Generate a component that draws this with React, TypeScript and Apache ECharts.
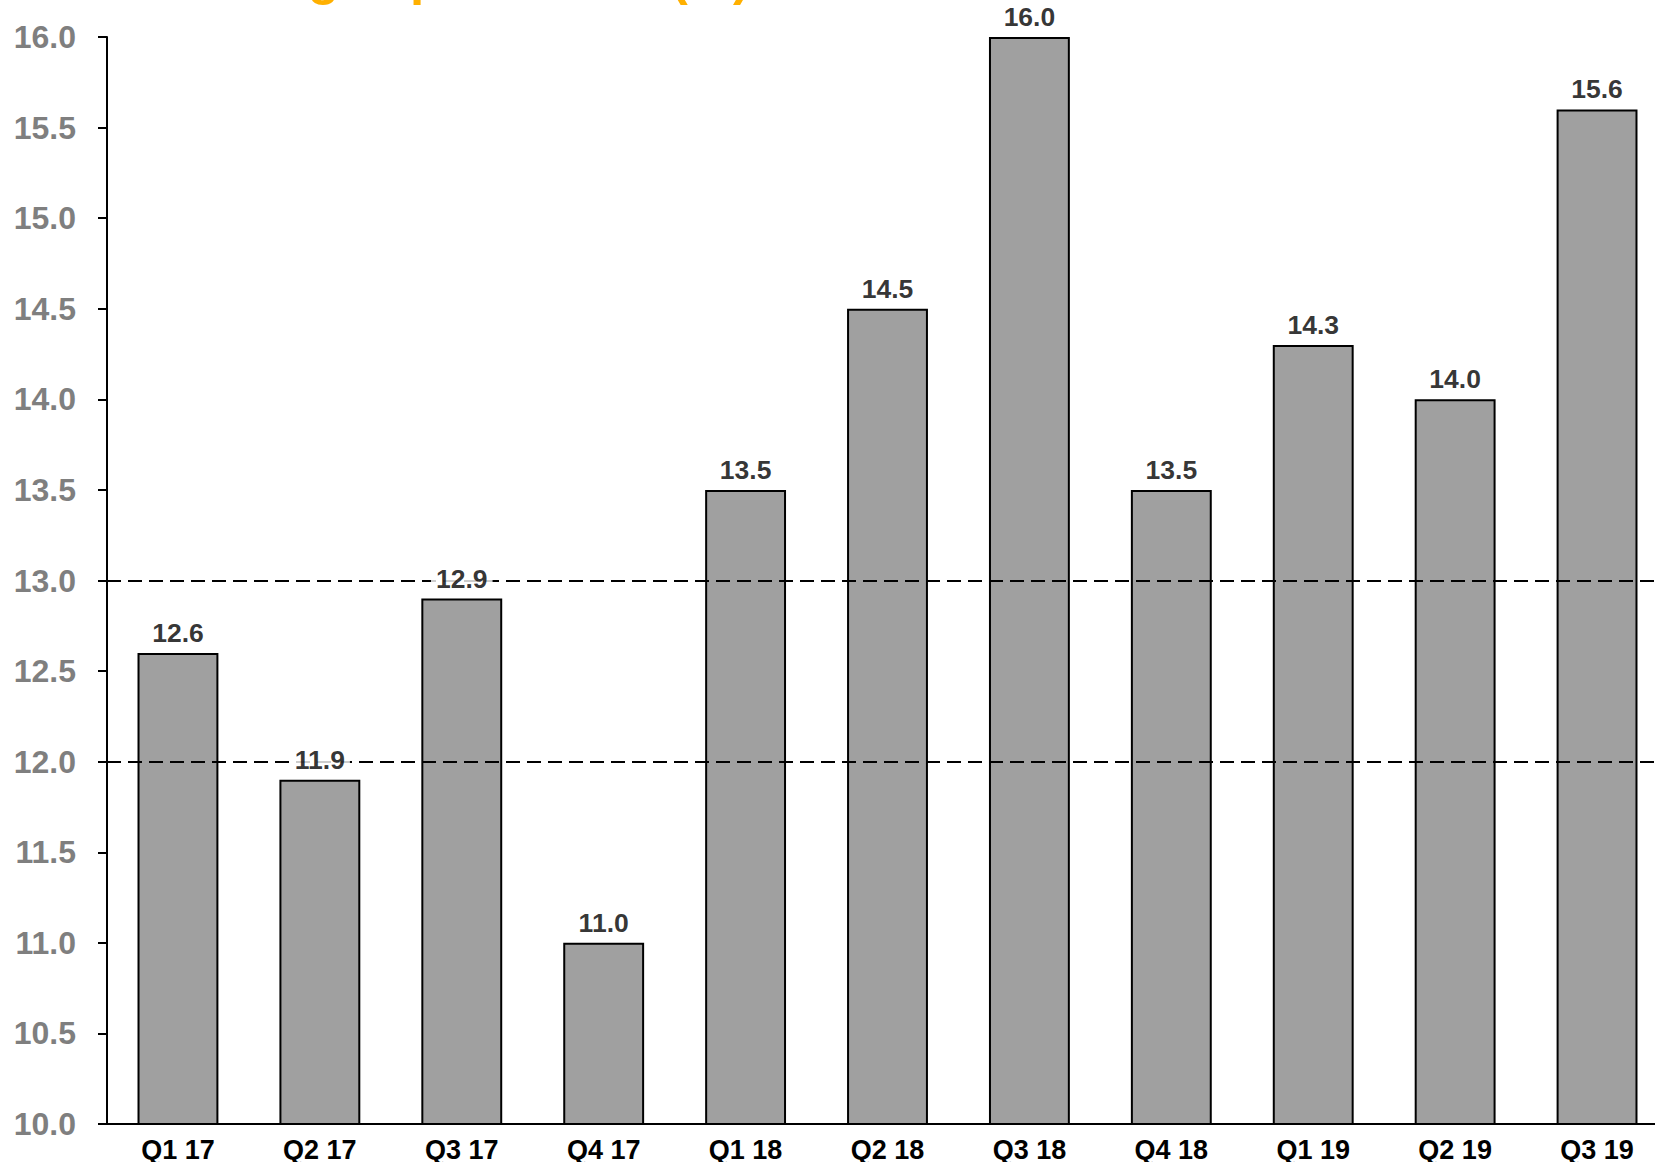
import React, { useEffect, useRef } from "react";
import * as echarts from "echarts";

// Quarterly categories and their values (%)
const quarters = ["Q1 17", "Q2 17", "Q3 17", "Q4 17", "Q1 18", "Q2 18", "Q3 18", "Q4 18", "Q1 19", "Q2 19", "Q3 19"];
const values = [12.6, 11.9, 12.9, 11.0, 13.5, 14.5, 16.0, 13.5, 14.3, 14.0, 15.6];

// Dashed reference levels
const referenceLevels = [12.0, 13.0];

// Value axis range
const yMin = 10;
const yMax = 16;
const yStep = 0.5;

const titleText = "Average spread rate (%)";

const FONT = "'Liberation Sans', Arial, Helvetica, sans-serif";

export default function App() {
  const ref = useRef<HTMLDivElement | null>(null);

  useEffect(() => {
    document.body.style.margin = "0";
    if (!ref.current) return;
    const chart = echarts.init(ref.current, undefined, { renderer: "svg" });

    chart.setOption({
      animation: false,
      backgroundColor: "#ffffff",
      textStyle: { fontFamily: FONT },
      graphic: [
        {
          type: "text",
          left: 168,
          y: -24,
          style: {
            text: titleText,
            fill: "#FFB000",
            font: `bold 51px ${FONT}`,
            textVerticalAlign: "middle",
          },
        },
      ],
      // the plot runs a little past the right edge of the canvas
      grid: { left: 107, top: 37, width: 1561, height: 1087, outerBoundsMode: "none", containLabel: false },
      xAxis: {
        type: "category",
        data: quarters,
        axisLine: { show: true, lineStyle: { color: "#000", width: 2 } },
        axisTick: { show: false },
        axisLabel: {
          color: "#000",
          fontWeight: "bold",
          fontSize: 27,
          fontFamily: FONT,
          margin: 12,
        },
      },
      yAxis: {
        type: "value",
        min: yMin,
        max: yMax,
        interval: yStep,
        axisLine: { show: true, lineStyle: { color: "#000", width: 2 } },
        axisTick: { show: true, inside: false, length: 9, lineStyle: { color: "#000", width: 2 } },
        splitLine: { show: false },
        axisLabel: {
          formatter: (v: number) => v.toFixed(1),
          color: "#7f7f7f",
          fontWeight: "bold",
          fontSize: 32,
          fontFamily: FONT,
          margin: 31,
        },
      },
      series: [
        {
          type: "bar",
          data: values,
          barWidth: "57%",
          z: 2,
          itemStyle: { color: "#a0a0a0", borderColor: "#000", borderWidth: 2 },
          markLine: {
            silent: true,
            symbol: ["none", "none"],
            label: { show: false },
            lineStyle: { color: "#000", width: 2, type: [14, 7] },
            data: referenceLevels.map((v) => ({ yAxis: v })),
          },
        },
        {
          // value labels sit above the dashed lines on a white backing
          type: "scatter",
          data: values,
          symbolSize: 1,
          z: 10,
          itemStyle: { color: "rgba(0,0,0,0)" },
          label: {
            show: true,
            position: "top",
            distance: 6,
            formatter: (p: any) => Number(p.value).toFixed(1),
            color: "#000",
            fontWeight: "bold",
            fontSize: 26.5,
            fontFamily: FONT,
            backgroundColor: "#fff",
            padding: [0, 5],
          },
        },
      ],
    });

    return () => {
      chart.dispose();
    };
  }, []);

  return <div ref={ref} style={{ width: 1655, height: 1162 }} />;
}
